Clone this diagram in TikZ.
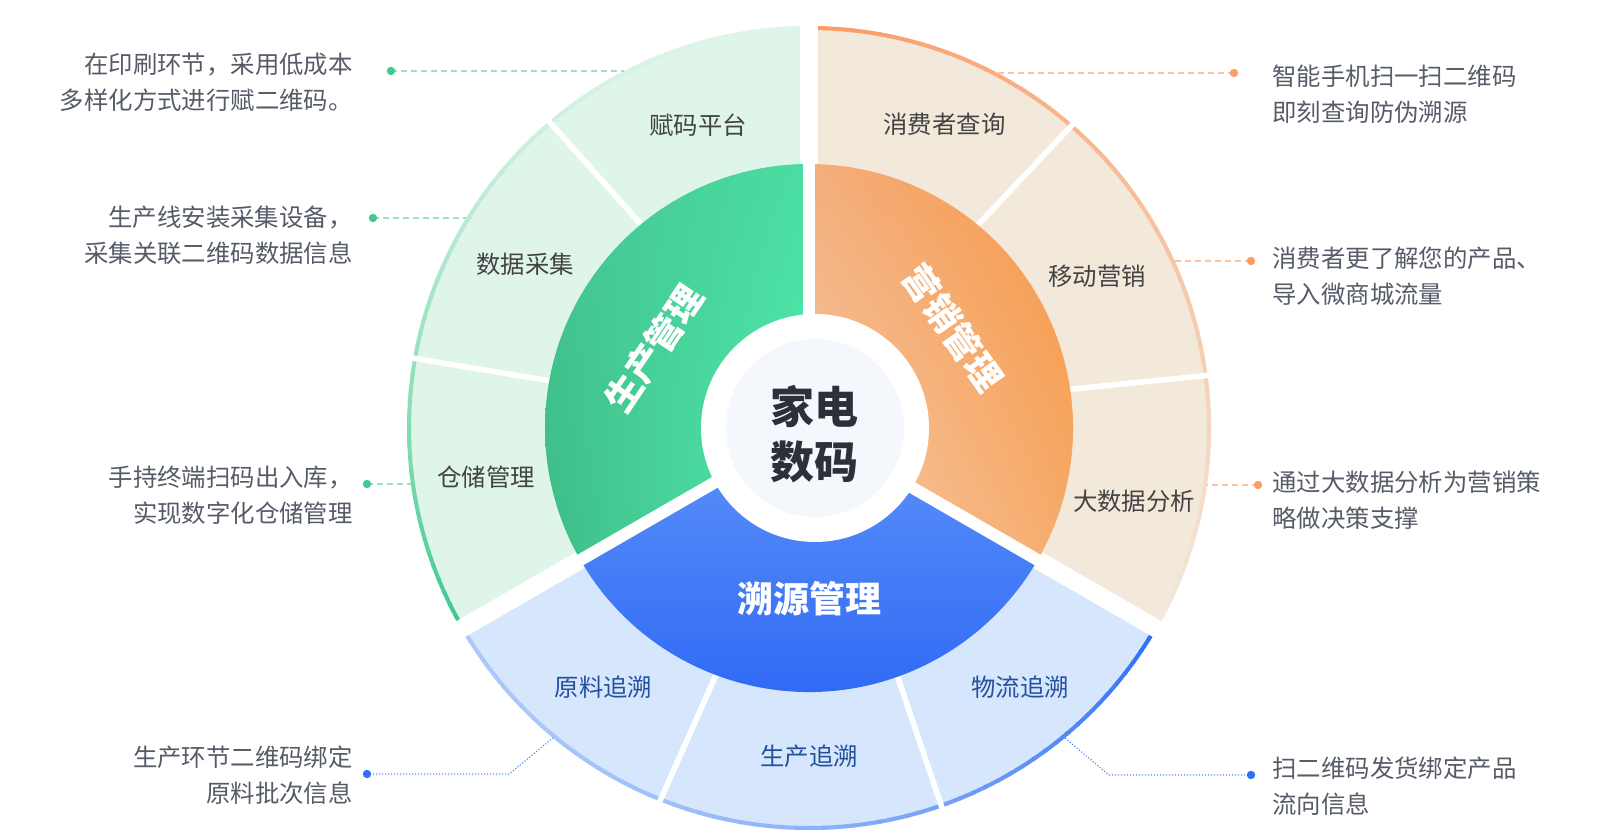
\documentclass[tikz,border=0pt]{standalone}
\usepackage{fontspec}
\setmainfont{Noto Sans CJK SC}
\usetikzlibrary{shadings,calc}
\definecolor{greenfill}{HTML}{E0F5EA}
\definecolor{orangefill}{HTML}{F3E9DB}
\definecolor{bluefill}{HTML}{D6E6FC}
\definecolor{greenedge}{HTML}{3DC98D}
\definecolor{orangeedge}{HTML}{FC9A66}
\definecolor{blueedge}{HTML}{2F6EF5}
\definecolor{gul}{HTML}{45C590}
\definecolor{gur}{HTML}{4ADDA2}
\definecolor{gll}{HTML}{3EBC87}
\definecolor{glr}{HTML}{52EEAE}
\definecolor{oul}{HTML}{F3AE7C}
\definecolor{our}{HTML}{F8953F}
\definecolor{oll}{HTML}{F6CDAE}
\definecolor{olr}{HTML}{F6A660}
\definecolor{btop}{HTML}{5D92FA}
\definecolor{bbot}{HTML}{2A65F4}
\definecolor{labeldark}{HTML}{434343}
\definecolor{labelblue}{HTML}{24519F}
\definecolor{descgray}{HTML}{565B68}
\definecolor{centertext}{HTML}{2E3039}
\definecolor{centerfill}{HTML}{F4F8FD}
\definecolor{gdashcol}{HTML}{9DDFC3}
\definecolor{gdotcol}{HTML}{41C98F}
\definecolor{odashcol}{HTML}{FCC3A2}
\definecolor{odotcol}{HTML}{FB9B66}
\definecolor{bdashcol}{HTML}{5B8DF8}
\definecolor{bdotcol}{HTML}{2F6EF5}
\begin{document}
\begin{tikzpicture}[x=0.5pt,y=0.5pt,line join=round,
  sublabel/.style={font=\fontsize{12.2}{14}\selectfont,text=labeldark},
  bluelabel/.style={sublabel,text=labelblue},
  mainlabel/.style={font=\fontsize{18}{20}\selectfont\bfseries,text=white},
  desc/.style={font=\fontsize{12.2}{18}\selectfont,text=descgray,inner sep=0pt},
  gdash/.style={draw=gdashcol,line width=1pt,dash pattern=on 3pt off 2pt},
  odash/.style={draw=odashcol,line width=1pt,dash pattern=on 3pt off 2pt},
  bdot/.style={draw=bdashcol,line width=0.6pt,dash pattern=on 0.6pt off 0.9pt}]
  \useasboundingbox (0,0) rectangle (1600,840);
  \coordinate (C) at (809,412);
  \coordinate (M) at (815,412);

  \fill[greenfill] (C) -- ++(90:201pt) arc[start angle=90,end angle=210,radius=201pt] -- cycle;
  \fill[orangefill] (C) -- ++(-30:201pt) arc[start angle=-30,end angle=90,radius=201pt] -- cycle;
  \fill[bluefill] (C) -- ++(210:201pt) arc[start angle=210,end angle=330,radius=201pt] -- cycle;

  \foreach \i in {0,...,59}{
    \pgfmathsetmacro\pg{100*(\i/59)*(\i/59)}
    \pgfmathsetmacro\po{100*(1-\i/59)}
    \pgfmathsetmacro\pb{25+75*(\i/59)*(\i/59)}
    \draw[line width=2pt,greenedge!\pg!greenfill] (C) ++(90+2*\i:200pt) arc[start angle=90+2*\i,end angle=92.4+2*\i,radius=200pt];
    \draw[line width=2pt,orangeedge!\po!orangefill] (C) ++(90-2*\i:200pt) arc[start angle=90-2*\i,end angle=87.6-2*\i,radius=200pt];
    \draw[line width=2pt,blueedge!\pb!bluefill] (C) ++(210+2*\i:200pt) arc[start angle=210+2*\i,end angle=212.4+2*\i,radius=200pt];
  }

  \foreach \a/\b in {129.3/130.3,169.6/170,50.6/49,8.7/7.5,249.7/248.2,289.7/289.3}
    \draw[white,line width=2.8pt] ($(C)+(\a:120pt)$) -- ($(C)+(\b:203pt)$);
  \foreach \a in {90,210,330}
    \draw[white,line width=9pt] (C) -- ++(\a:206pt);

  \shade[upper left=gul,upper right=gur,lower left=gll,lower right=glr]
    (C) -- ++(90:132pt) arc[start angle=90,end angle=210,radius=132pt] -- cycle;
  \shade[upper left=oul,upper right=our,lower left=oll,lower right=olr]
    (C) -- ++(-30:132pt) arc[start angle=-30,end angle=90,radius=132pt] -- cycle;
  \shade[top color=btop,bottom color=bbot]
    (C) -- ++(210:132pt) arc[start angle=210,end angle=330,radius=132pt] -- cycle;
  \foreach \a in {90,210,330}
    \draw[white,line width=6pt] (C) -- ++(\a:133pt);

  \fill[white] (M) circle (57pt);
  \fill[centerfill] (M) circle (44.5pt);
  \node[font=\fontsize{22}{27.5}\selectfont\bfseries,text=centertext,align=center] (core) at (814,405.5) {家电\\数码};

  \node[mainlabel,rotate=56] (prod) at (654.5,491.5) {生产管理};
  \node[mainlabel,rotate=-55] (mkt) at (953,512) {营销管理};
  \node[mainlabel] (trace) at (809,241) {溯源管理};

  \node[sublabel] (code) at (698,715) {赋码平台};
  \node[sublabel] (collect) at (525,576) {数据采集};
  \node[sublabel] (store) at (486,362.5) {仓储管理};
  \node[sublabel] (query) at (944.5,716) {消费者查询};
  \node[sublabel] (mobile) at (1097,564) {移动营销};
  \node[sublabel] (bigdata) at (1134,339) {大数据分析};
  \node[bluelabel] (raw) at (603.5,152.5) {原料追溯};
  \node[bluelabel] (make) at (809,84) {生产追溯};
  \node[bluelabel] (flow) at (1020,152.5) {物流追溯};

  \node[desc,anchor=east,align=right] (dcode) at (353,757.5) {在印刷环节，采用低成本\\多样化方式进行赋二维码。};
  \node[desc,anchor=east,align=right] (dcollect) at (353,605) {生产线安装采集设备，\\采集关联二维码数据信息};
  \node[desc,anchor=east,align=right] (dstore) at (353,344.5) {手持终端扫码出入库，\\实现数字化仓储管理};
  \node[desc,anchor=east,align=right] (draw) at (353,65) {生产环节二维码绑定\\原料批次信息};
  \node[desc,anchor=west,align=left] (dquery) at (1272,745.5) {智能手机扫一扫二维码\\即刻查询防伪溯源};
  \node[desc,anchor=west,align=left] (dmobile) at (1272,563.5) {消费者更了解您的产品、\\导入微商城流量};
  \node[desc,anchor=west,align=left] (dbigdata) at (1272,339.5) {通过大数据分析为营销策\\略做决策支撑};
  \node[desc,anchor=west,align=left] (dflow) at (1272,53.5) {扫二维码发货绑定产品\\流向信息};

  \coordinate (pcode) at (391,769);     \coordinate (ecode) at (624,769);
  \coordinate (pcollect) at (373,622);  \coordinate (ecollect) at (466,622);
  \coordinate (pstore) at (367,356);    \coordinate (estore) at (411,356);
  \coordinate (praw) at (367,66);       \coordinate (kraw) at (509,66);    \coordinate (eraw) at (553,102);
  \coordinate (pquery) at (1234,767);   \coordinate (equery) at (998,767);
  \coordinate (pmobile) at (1251,579);  \coordinate (emobile) at (1175,579);
  \coordinate (pbigdata) at (1258,355); \coordinate (ebigdata) at (1207,355);
  \coordinate (pflow) at (1251,65);     \coordinate (kflow) at (1109,65);  \coordinate (eflow) at (1065,102);

  \draw[gdash] (pcode) -- (ecode);
  \draw[gdash] (pcollect) -- (ecollect);
  \draw[gdash] (pstore) -- (estore);
  \draw[odash] (pquery) -- (equery);
  \draw[odash] (pmobile) -- (emobile);
  \draw[odash] (pbigdata) -- (ebigdata);
  \draw[bdot] (praw) -- (kraw) -- (eraw);
  \draw[bdot] (pflow) -- (kflow) -- (eflow);

  \fill[gdotcol] (pcode) circle (2.1pt);
  \fill[gdotcol] (pcollect) circle (2.1pt);
  \fill[gdotcol] (pstore) circle (2.1pt);
  \fill[odotcol] (pquery) circle (2.1pt);
  \fill[odotcol] (pmobile) circle (2.1pt);
  \fill[odotcol] (pbigdata) circle (2.1pt);
  \fill[bdotcol] (praw) circle (2.1pt);
  \fill[bdotcol] (pflow) circle (2.1pt);
\end{tikzpicture}
\end{document}
